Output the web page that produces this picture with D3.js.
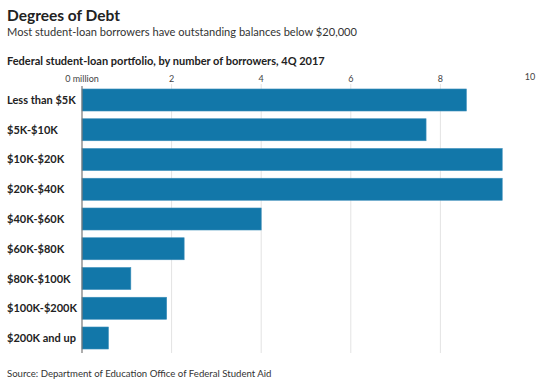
<!DOCTYPE html>
<html><head><meta charset="utf-8">
<script src="https://cdn.jsdelivr.net/npm/d3@7"></script>
<style>
body{margin:0;background:#fff;}
svg{display:block;font-family:Lato, "Open Sans", sans-serif;}
</style></head>
<body><svg id="c" width="550" height="385"></svg>
<script>
const categories = ["Less than $5K","$5K-$10K","$10K-$20K","$20K-$40K","$40K-$60K","$60K-$80K","$80K-$100K","$100K-$200K","$200K and up"];
const borrowers = [8.58, 7.68, 9.38, 9.38, 4.0, 2.28, 1.09, 1.89, 0.59];
const tickValues = [0, 2, 4, 6, 8, 10];
const tickLabels = ["0 million", "2", "4", "6", "8", "10"];

const svg = d3.select("#c");
const x = d3.scaleLinear().domain([0, 10]).range([82, 530]);
const y = d3.scaleBand().domain(categories).range([85, 353]).paddingInner(0.26).paddingOuter(0.134);

svg.append("text").attr("x", 7).attr("y", 21).attr("font-size", 15.5).attr("font-weight", 700).attr("fill", "#222").text("Degrees of Debt");
svg.append("text").attr("x", 7).attr("y", 36).attr("font-size", 11.1).attr("fill", "#333").text("Most student-loan borrowers have outstanding balances below $20,000");
svg.append("text").attr("x", 7).attr("y", 65).attr("font-size", 11).attr("font-weight", 700).attr("fill", "#222").text("Federal student-loan portfolio, by number of borrowers, 4Q 2017");

// gridlines
svg.append("g").selectAll("line").data(tickValues.filter(d => d > 0 && d < 10)).join("line")
  .attr("x1", d => x(d)).attr("x2", d => x(d)).attr("y1", 84).attr("y2", 353)
  .attr("stroke", "#e3e3e3").attr("stroke-width", 1);

// tick labels
svg.append("g").selectAll("text").data(tickValues).join("text")
  .attr("x", d => x(d))
  .attr("y", d => d === 10 ? 80 : 82)
  .attr("text-anchor", "middle").attr("font-size", 9).attr("fill", "#444")
  .text((d, i) => tickLabels[i]);

// bars
svg.append("g").selectAll("rect").data(borrowers).join("rect")
  .attr("x", x(0)).attr("y", (d, i) => y(categories[i]))
  .attr("width", d => x(d) - x(0)).attr("height", y.bandwidth())
  .attr("fill", "#1277a9").attr("stroke", "#3d8fbb").attr("stroke-width", 0.6);

// y axis line
svg.append("line").attr("x1", x(0)).attr("x2", x(0)).attr("y1", 86).attr("y2", 353)
  .attr("stroke", "#777").attr("stroke-width", 1.2);

// category labels
svg.append("g").selectAll("text").data(categories).join("text")
  .attr("x", 7).attr("y", d => y(d) + y.bandwidth() / 2 + 4)
  .attr("font-size", 11).attr("font-weight", 700).attr("fill", "#222").text(d => d);

svg.append("text").attr("x", 7).attr("y", 377).attr("font-size", 9.6).attr("fill", "#333")
  .text("Source: Department of Education Office of Federal Student Aid");
</script></body></html>
